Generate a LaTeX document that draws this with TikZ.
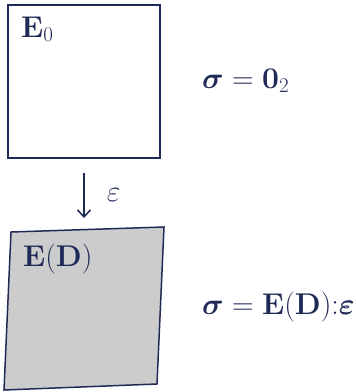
\RequirePackage{fix-cm}
\documentclass[tikz,border=0pt]{standalone}
\usepackage{amsmath}
\usepackage{tikz}
\usetikzlibrary{positioning,arrows.meta}
\definecolor{navy}{RGB}{32,42,86}
\tikzset{
  panel/.style={draw=navy, line width=2pt},
  tag/.style={text=navy, font=\fontsize{30}{36}\selectfont, anchor=base west, inner sep=0pt},
  formula/.style={text=navy, font=\fontsize{30}{36}\selectfont, anchor=base west, inner sep=0pt},
  line/.style={-{Straight Barb[length=7pt,width=13pt]}, navy, line width=1.5pt}
}
\begin{document}
\begin{tikzpicture}[x=1pt, y=-1pt]
    \useasboundingbox (0,0) rectangle (356,392);
    % undeformed and deformed element
    \draw[panel, fill=white] (8,5) rectangle (160,158);
    \draw[panel, line width=1.5pt, fill=gray!40] (11,232) -- (164,227) -- (157,384) -- (4,390) -- cycle;

    \node[tag] (initial) at (21,37) {$\mathbf{E}_0$};
    \node[tag] (damaged) at (23,266) {$\mathbf{E}(\mathbf{D})$};

    \node[formula] (stress0) at (202,88) {$\boldsymbol{\sigma} = \mathbf{0}_2$};
    \node[formula] (stress) at (202,314) {$\boldsymbol{\sigma} = \mathbf{E}(\mathbf{D}){:}\boldsymbol{\varepsilon}$};

    \coordinate (from) at (84,173);
    \coordinate (to) at (84,218);
    \draw[line] (from) -- node[tag, anchor=west, xshift=22pt] (strain) {$\varepsilon$} (to);
\end{tikzpicture}
\end{document}
